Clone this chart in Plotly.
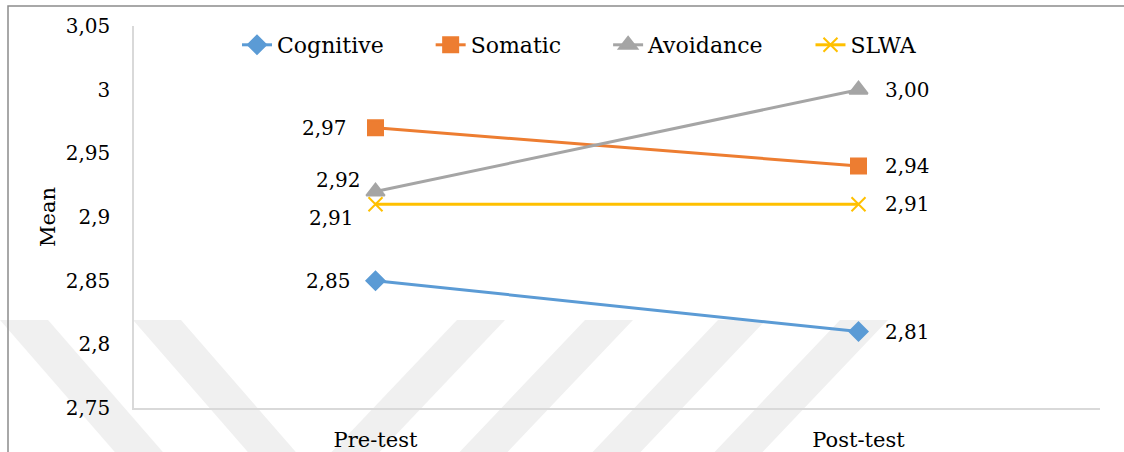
import plotly.graph_objects as go

# Data
phases = ["Pre-test", "Post-test"]
cognitive = [2.85, 2.81]
somatic = [2.97, 2.94]
avoidance = [2.92, 3.00]
slwa = [2.91, 2.91]

y_tickvals = [2.75, 2.80, 2.85, 2.90, 2.95, 3.00, 3.05]
y_ticktext = ["2,75", "2,8", "2,85", "2,9", "2,95", "3", "3,05"]

FONT = "DejaVu Serif"
W, H = 1124, 452
ML, MR, MT, MB = 134, 24, 26, 44
PW, PH = W - ML - MR, H - MT - MB
PAD = "\u00a0" * 6  # extra room between legend entries


def px(x):
    return (x - ML) / PW


def py(y):
    return (H - MB - y) / PH


series = [
    ("Cognitive", cognitive, "#5B9BD5", "diamond", 14),
    ("Somatic", somatic, "#ED7D31", "square", 15),
    ("Avoidance", avoidance, "#A5A5A5", "triangle-up", 16),
    ("SLWA", slwa, "#FFC000", "x-thin-open", 14),
]

fig = go.Figure()
for i, (name, vals, color, symbol, size) in enumerate(series):
    fig.add_trace(go.Scatter(
        x=phases, y=vals, mode="lines+markers",
        name=name + (PAD if i < len(series) - 1 else ""),
        line=dict(color=color, width=3),
        marker=dict(symbol=symbol, size=size, color=color,
                    line=dict(color=color, width=2)),
        cliponaxis=False,
    ))

# value labels: left of the first point, right of the second
pre_shift = {
    "Cognitive": (-23, 0),
    "Somatic": (-27, 0),
    "Avoidance": (-13, 12),
    "SLWA": (-20, -14),
}
annotations = []
for name, vals, color, symbol, size in series:
    dx, dy = pre_shift[name]
    annotations.append(dict(
        x=phases[0], y=vals[0], text=f"{vals[0]:.2f}".replace(".", ","),
        showarrow=False, xanchor="right", yanchor="middle",
        xshift=dx, yshift=dy, font=dict(family=FONT, size=20, color="black")))
    annotations.append(dict(
        x=phases[1], y=vals[1], text=f"{vals[1]:.2f}".replace(".", ","),
        showarrow=False, xanchor="left", yanchor="middle",
        xshift=24, font=dict(family=FONT, size=20, color="black")))

# faint diagonal background stripes and outer frame
shapes = []
stripe_w = 48
y_top, y_bot = 320, 470
for x0 in [0, 133]:
    slope = 0.87
    d = (y_bot - y_top) * slope
    path = (f"M{px(x0)},{py(y_top)} L{px(x0 + stripe_w)},{py(y_top)} "
            f"L{px(x0 + stripe_w + d)},{py(y_bot)} L{px(x0 + d)},{py(y_bot)} Z")
    shapes.append(dict(type="path", path=path, xref="paper", yref="paper",
                       fillcolor="#f0f0f0", line=dict(width=0), layer="below"))
for x0 in [457, 585, 718, 840]:
    slope = -0.95
    d = (y_bot - y_top) * slope
    path = (f"M{px(x0)},{py(y_top)} L{px(x0 + stripe_w)},{py(y_top)} "
            f"L{px(x0 + stripe_w + d)},{py(y_bot)} L{px(x0 + d)},{py(y_bot)} Z")
    shapes.append(dict(type="path", path=path, xref="paper", yref="paper",
                       fillcolor="#f0f0f0", line=dict(width=0), layer="below"))

frame = f"M{px(8)},{py(480)} L{px(8)},{py(6)} L{px(1140)},{py(6)}"
shapes.append(dict(type="path", path=frame, xref="paper", yref="paper",
                   line=dict(color="#8c8c8c", width=1.5), layer="above"))

fig.update_layout(
    width=W, height=H, autosize=False,
    margin=dict(l=ML, r=MR, t=MT, b=MB, autoexpand=False),
    paper_bgcolor="white", plot_bgcolor="rgba(0,0,0,0)",
    font=dict(family=FONT, size=20, color="black"),
    separators=",.",
    showlegend=True,
    legend=dict(orientation="h", x=px(237), xanchor="left",
                y=py(45), yanchor="middle",
                font=dict(family=FONT, size=22, color="black"),
                bgcolor="rgba(0,0,0,0)", itemclick=False),
    annotations=annotations,
    shapes=shapes,
)
fig.update_xaxes(
    type="category", range=[-0.5, 1.5], automargin=False,
    showline=True, linecolor="#d9d9d9", linewidth=1.5,
    showgrid=False, zeroline=False, ticks="",
    ticklabelstandoff=12,
    tickfont=dict(family=FONT, size=21, color="black"),
)
fig.update_yaxes(
    range=[2.75, 3.05], tickvals=y_tickvals, ticktext=y_ticktext,
    automargin=False,
    showline=True, linecolor="#d9d9d9", linewidth=1.5,
    showgrid=False, zeroline=False, ticks="",
    ticklabelstandoff=18,
    tickfont=dict(family=FONT, size=20, color="black"),
    title=dict(text="Mean", font=dict(family=FONT, size=21, color="black"),
               standoff=4),
)

fig.write_html("out.html")
